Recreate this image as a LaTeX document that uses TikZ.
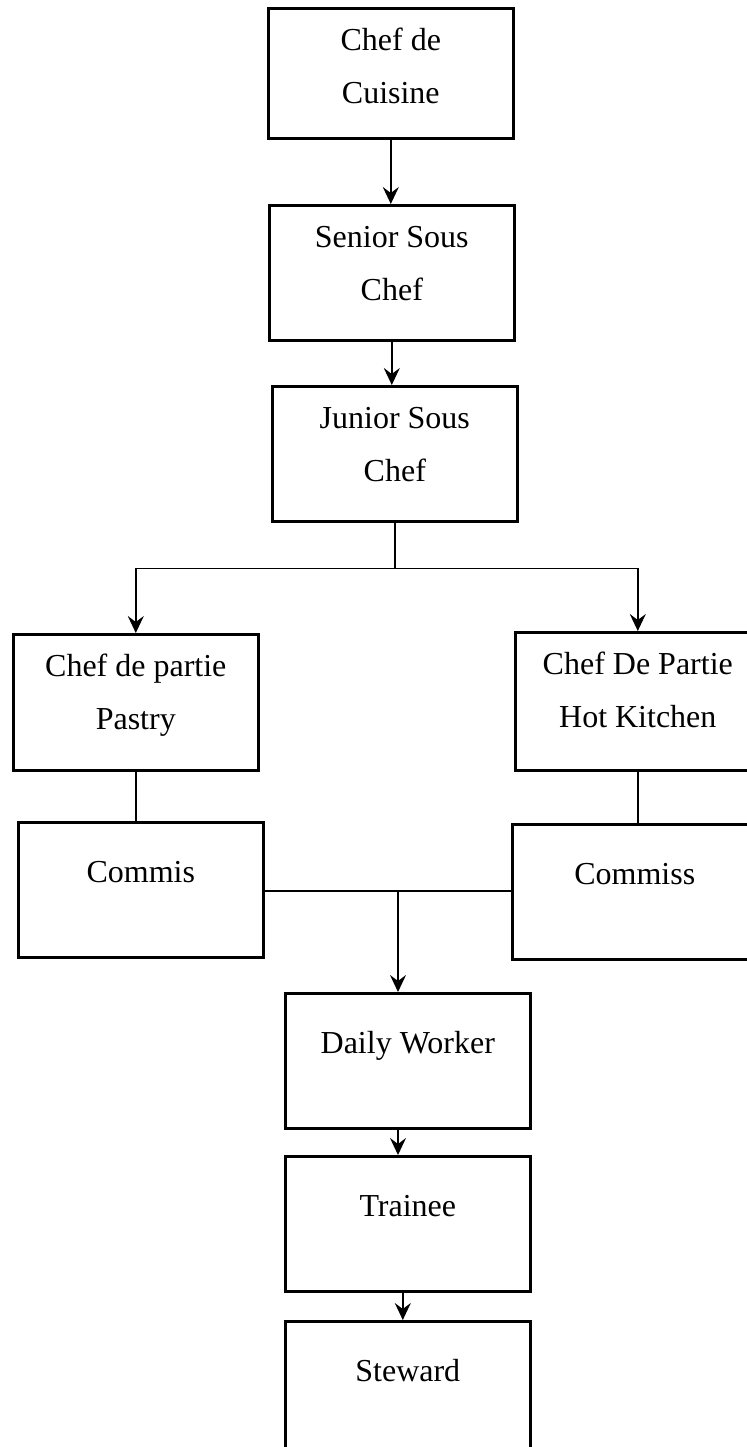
\documentclass[tikz,border=0pt]{standalone}
\usepackage{fontspec}
\setmainfont{Liberation Serif}
\usepackage{tikz}
\usetikzlibrary{arrows.meta, positioning, calc}

\newcommand{\roletext}[1]{\parbox[t]{120pt}{\centering #1}}

\begin{document}
\begin{tikzpicture}[x=0.5pt, y=-0.5pt,
        box/.style={draw, line width=1.3pt, inner sep=0pt, minimum width=122.5pt,
                anchor=north west, font=\fontsize{16}{26.5}\selectfont},
        twoline/.style={box, text height=21pt, text depth=46.5pt},
        oneline/.style={box, text height=30pt, text depth=37.5pt},
        link/.style={line width=0.8pt},
        arrow/.style={link, -{Stealth[length=8.5pt, width=8pt, inset=3pt]}}]
        \clip (0,0) rectangle (747,1447);

        % Top chain
        \node[twoline, text depth=44pt] (cuisine) at (267,7) {\roletext{Chef de\\Cuisine}};
        \node[twoline] (senior) at (268,204) {\roletext{Senior Sous\\Chef}};
        \node[twoline] (junior) at (271,385) {\roletext{Junior Sous\\Chef}};

        % Sections
        \node[twoline, text depth=47pt] (pastry) at (12,633) {\roletext{Chef de partie\\Pastry}};
        \node[twoline, text depth=48pt] (hot) at (514,631) {\roletext{Chef De Partie\\Hot Kitchen}};
        \node[oneline] (commis) at (17,821) {\roletext{Commis}};
        \node[oneline] (commiss) at (511,823) {\roletext{Commiss}};

        % Bottom chain
        \node[oneline] (daily) at (284,992) {\roletext{Daily Worker\hspace{12pt}}};
        \node[oneline] (trainee) at (284,1155) {\roletext{Trainee}};
        \node[oneline] (steward) at (284,1320) {\roletext{Steward}};

        \draw[arrow] (cuisine.south) -- (cuisine.south |- senior.north);
        \draw[arrow] (senior.south) -- (senior.south |- junior.north);

        \coordinate[below=23pt of junior.south] (split);
        \draw[link] (junior.south) -- (split);
        \draw[arrow] (split) -| (pastry.north);
        \draw[arrow] (split) -| (hot.north);

        \draw[link] (pastry.south) -- (pastry.south |- commis.north);
        \draw[link] (hot.south) -- (hot.south |- commiss.north);

        \coordinate (merge) at (398,891);
        \draw[link] (commis.east |- merge) -- (commiss.west |- merge);
        \draw[arrow] (merge) -- (merge |- daily.north);
        \draw[arrow] (merge |- daily.south) -- (merge |- trainee.north);
        \draw[arrow] ([xshift=-2.5pt]trainee.south) -- ([xshift=-2.5pt]trainee.south |- steward.north);
\end{tikzpicture}
\end{document}
